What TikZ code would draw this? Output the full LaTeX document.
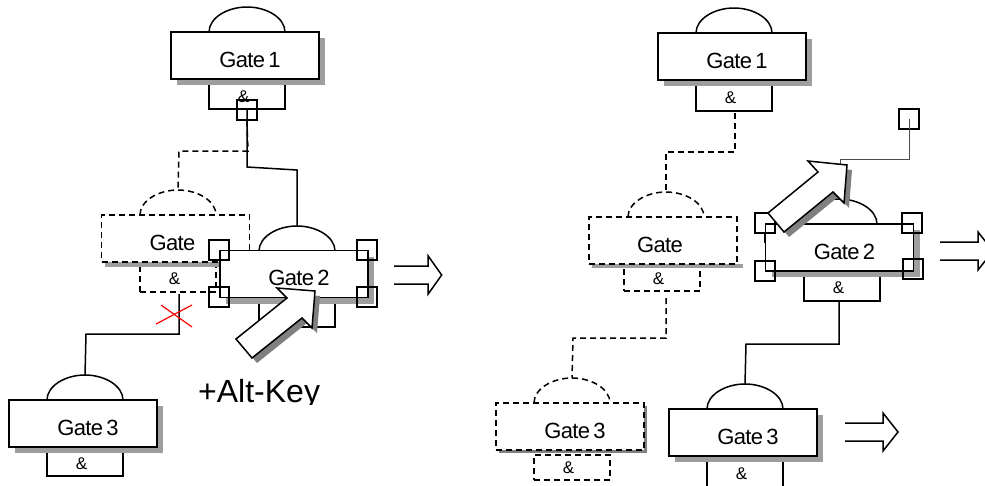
\documentclass[tikz,border=0pt]{standalone}
\usepackage{fontspec}
\setmainfont{Liberation Sans}
\newfontfamily\gatefont[LetterSpace=-3.0, WordSpace=0.6]{Liberation Sans}
\usetikzlibrary{shadows}

\definecolor{shadowgray}{gray}{0.62}
\definecolor{arrowgray}{gray}{0.5}

\tikzset{
    gatebox/.style={draw, fill=white, line width=1.5pt, minimum width=148pt, minimum height=47pt, inner sep=0pt,
        text height=23pt, text depth=0pt, font=\gatefont\fontsize{22}{24}\selectfont, execute at begin node=\kern10pt},
    plaingate/.style={gatebox, drop shadow={shadow xshift=6pt, shadow yshift=-6pt, fill=shadowgray, opacity=1}},
    ghostgate/.style={gatebox, dash pattern=on 6pt off 4pt},
    andbox/.style={draw, line width=1.5pt, minimum width=76pt, inner sep=0pt, font=\fontsize{17}{19}\selectfont,
        execute at end node=\kern7pt},
    ghostand/.style={andbox, dash pattern=on 6pt off 4pt},
    handle/.style={draw, line width=1.5pt, minimum size=20pt, inner sep=0pt},
    wire/.style={line width=1.5pt},
    ghostwire/.style={wire, dash pattern=on 6pt off 4pt},
    bigarrow/.style={draw, fill=white, line width=1.5pt,
        drop shadow={shadow xshift=5pt, shadow yshift=-5pt, fill=arrowgray, opacity=1}},
    dome/.pic={
        \draw[line width=1.5pt] (-38,0) .. controls (-38,-14) and (-20,-25) .. (0,-25)
            .. controls (20,-25) and (38,-14) .. (38,0);
        \coordinate (-top) at (0,-25);
    },
    hollowarrow/.pic={
        \draw[line width=1.5pt] (0,-9) -- (38,-9) -- (38,-19) -- (53,0) -- (38,19) -- (38,9) -- (0,9);
    }
}

\begin{document}
\begin{tikzpicture}[x=1pt, y=-1pt]
    \useasboundingbox (0,0) rectangle (985,485);

    % left: before
    \node[andbox, minimum height=25pt] (a1) at (247,96.5) {\&};
    \pic (d1) at (247,32) {dome};
    \node[plaingate] (g1) at (245,55.5) {Gate 1};

    \node[ghostand, minimum height=27pt] (ag) at (178,278.5) {\&};
    \pic[dash pattern=on 6pt off 4pt] (dg) at (178,215) {dome};
    \fill[shadowgray] (105,262) rectangle (255,267);
    \node[ghostgate, execute at end node=\kern16pt] (g) at (175.5,238.5) {Gate};

    \node[andbox, minimum height=24pt] (a2) at (297,315) {};
    \pic (d2) at (297,251) {dome};
    \node[plaingate] (g2) at (294,274) {Gate 2};

    \node[andbox, minimum height=24pt] (a3) at (85,464) {\&};
    \pic (d3) at (85,400) {dome};
    \node[plaingate] (g3) at (83,423.5) {Gate 3};

    \node[handle] (h0) at (247,110) {};
    \node[handle] (h1) at (219,250) {};
    \node[handle] (h2) at (367,250) {};
    \node[handle] (h3) at (219,297) {};
    \node[handle] (h4) at (367,297) {};

    \draw[wire] (h0.center) -- (247,167) -- (297,170) -- (d2-top);
    \draw[ghostwire] (h0.south) -- (248,151) -- (179,151) -- (dg-top);
    \coordinate (cut) at (179,294);
    \draw[wire] (cut) -- (179,334) -- (86,334) -- (d3-top);
    \draw[red, line width=1.2pt] (161,305) -- (192,327);
    \draw[red, line width=1.2pt] (156,324) -- (192,305);

    \draw[bigarrow] (315,291) -- (277,288) -- (287,298) -- (236,339) -- (252,358) -- (302,318) -- (312,328) -- cycle;

    \begin{scope}
        \clip (190,370) rectangle (330,404.5);
        \node[anchor=base west, inner sep=0pt, font=\fontsize{32}{34}\selectfont] (alt) at (198,402) {+Alt-Key};
    \end{scope}
    \pic[xscale=0.9] at (394,275) {hollowarrow};

    % right: after
    \node[andbox, minimum height=26pt] (ra1) at (734,98) {\&};
    \pic (rd1) at (734,33) {dome};
    \node[plaingate] (rg1) at (732,56.5) {Gate 1};

    \node[ghostand, minimum height=25pt] (rag) at (662,278.5) {\&};
    \pic[dash pattern=on 6pt off 4pt] (rdg) at (666,217) {dome};
    \fill[shadowgray] (592,264) rectangle (743,268);
    \node[ghostgate, execute at end node=\kern16pt] (rg) at (663,240.5) {Gate};

    \node[andbox, minimum height=26pt] (ra2) at (842,288) {\&};
    \pic (rd2) at (839,224) {dome};
    \node[plaingate] (rg2) at (839.5,247.5) {Gate 2};

    \node[ghostand, minimum height=25pt] (rag3) at (572,467.5) {\&};
    \pic[dash pattern=on 6pt off 4pt] (rdg3) at (572,403) {dome};
    \node[ghostgate, drop shadow={shadow xshift=3pt, shadow yshift=-3pt, fill=arrowgray, opacity=1}] (rg3) at (570,426.5) {Gate 3};

    \node[andbox, minimum height=28pt] (ra3) at (745,474) {\&};
    \pic (rd3) at (745,409) {dome};
    \node[plaingate] (rg4) at (743,432.5) {Gate 3};

    \node[handle] (rh0) at (909,119) {};
    \node[handle] (rh1) at (765,223) {};
    \node[handle] (rh2) at (912,223) {};
    \node[handle] (rh3) at (765,271) {};
    \node[handle] (rh4) at (913,269) {};

    \coordinate (rcut) at (666,298);
    \draw[ghostwire] (735,113) -- (735,152) -- (666,152) -- (rdg-top);
    \draw[ghostwire] (rcut) -- (666,338) -- (573,338) -- (rdg3-top);
    \draw[wire] (ra2.south -| 839,0) -- (839,344) -- (746,344) -- (rd3-top);
    \draw[line width=0.9pt, black!70] (rh0.center) -- (909,159) -- (840,159) -- (840,164);
    \draw[line width=1.6pt] (rh1.south) -- (765,243);

    \draw[bigarrow] (847,165) -- (808,161) -- (818,172) -- (768,213) -- (784,232) -- (833,192) -- (844,203) -- cycle;

    \pic at (940,251) {hollowarrow};
    \pic at (845,432) {hollowarrow};
\end{tikzpicture}
\end{document}
